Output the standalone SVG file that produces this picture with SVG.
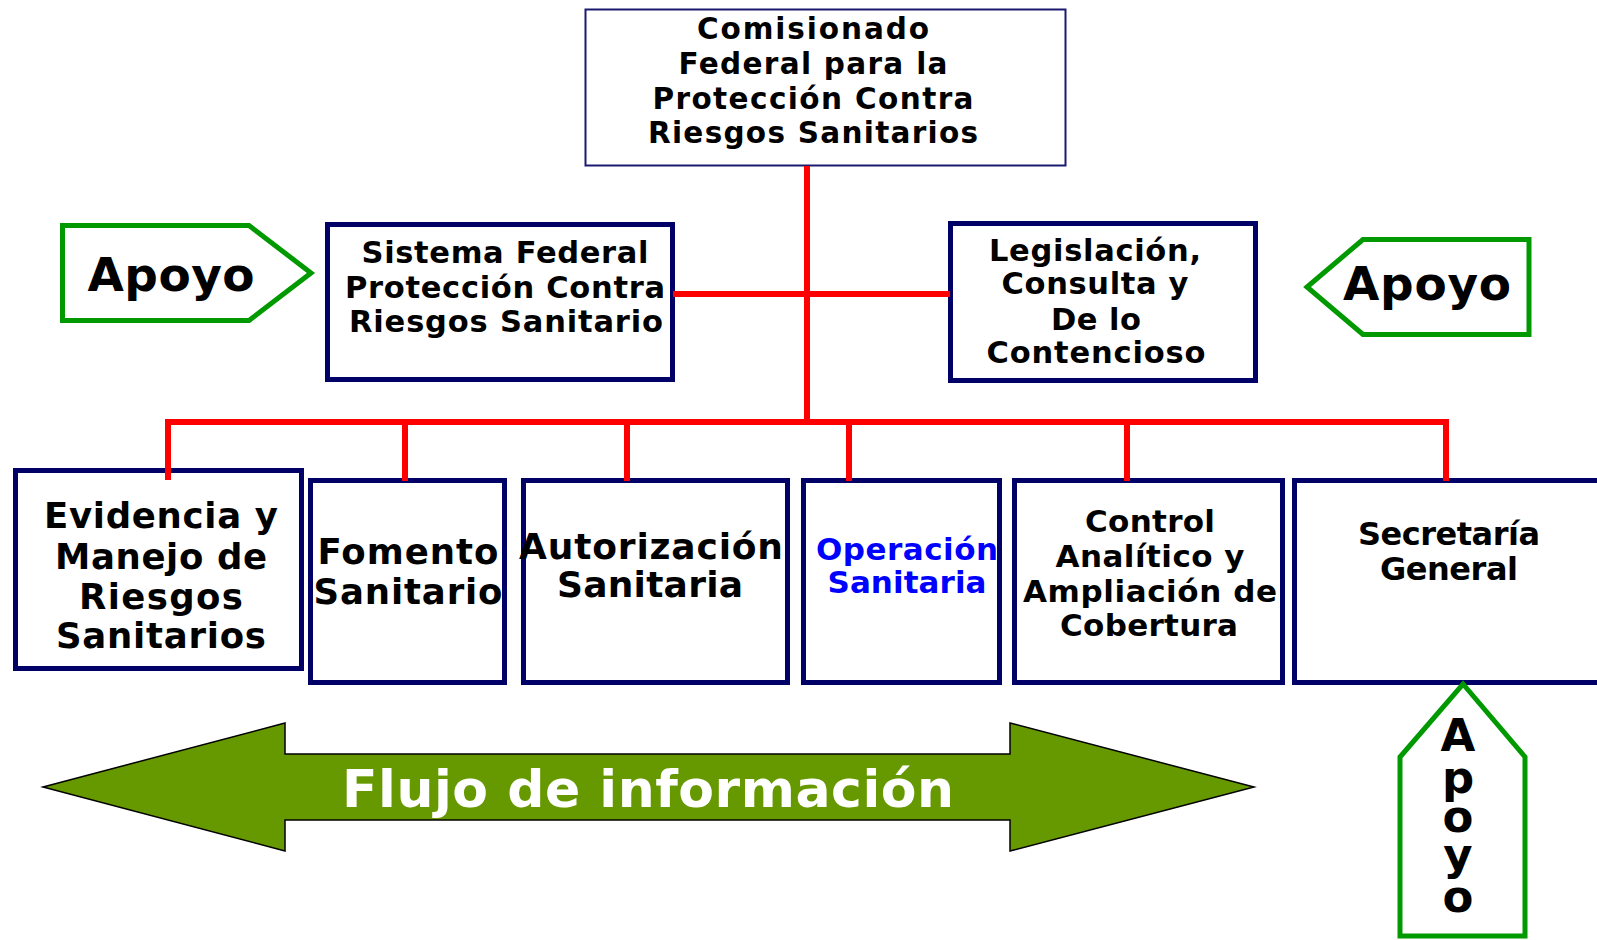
<svg xmlns="http://www.w3.org/2000/svg" width="1597" height="940" viewBox="0 0 1597 940">
<style>
.t{font-family:"DejaVu Sans",Verdana,sans-serif;font-weight:bold;text-anchor:middle;fill:#000}
.box{fill:#fff;stroke:#000066;stroke-width:5}
.top{fill:#fff;stroke:#1a1a70;stroke-width:2}
.apoyo{fill:#fff;stroke:#009900;stroke-width:5;stroke-linejoin:miter}
.red{stroke:#ff0000;stroke-width:6;fill:none}
</style>
<rect width="1597" height="940" fill="#fff"/>

<g id="comisionado">
<rect class="top" x="585.5" y="9.5" width="480" height="156"/>
<text class="t" font-size="29.5" x="813" y="39" textLength="232" lengthAdjust="spacing">Comisionado</text>
<text class="t" font-size="29.5" x="813" y="74" textLength="269" lengthAdjust="spacing">Federal para la</text>
<text class="t" font-size="29.5" x="813" y="109" textLength="321" lengthAdjust="spacing">Protección Contra</text>
<text class="t" font-size="29.5" x="813" y="143" textLength="330" lengthAdjust="spacing">Riesgos Sanitarios</text>
</g>

<g id="sistema">
<rect class="box" x="327.5" y="224.5" width="345" height="155"/>
<text class="t" font-size="30.5" x="505" y="263" textLength="287" lengthAdjust="spacing">Sistema Federal</text>
<text class="t" font-size="30.5" x="505" y="298" textLength="320" lengthAdjust="spacing">Protección Contra</text>
<text class="t" font-size="30.5" x="506" y="332" textLength="314" lengthAdjust="spacing">Riesgos Sanitario</text>
</g>

<g id="legislacion">
<rect class="box" x="950.5" y="223.5" width="305" height="157"/>
<text class="t" font-size="30.5" x="1095" y="261" textLength="212" lengthAdjust="spacing">Legislación,</text>
<text class="t" font-size="30.5" x="1095" y="294" textLength="187" lengthAdjust="spacing">Consulta y</text>
<text class="t" font-size="30.5" x="1096" y="330" textLength="90" lengthAdjust="spacing">De lo</text>
<text class="t" font-size="30.5" x="1096" y="363" textLength="219" lengthAdjust="spacing">Contencioso</text>
</g>

<g id="apoyo-izq">
<polygon class="apoyo" points="62.5,225.5 249,225.5 311,273 249,320.5 62.5,320.5"/>
<text class="t" font-size="47" x="171" y="291" textLength="167" lengthAdjust="spacing">Apoyo</text>
</g>

<g id="apoyo-der">
<polygon class="apoyo" points="1529,239.5 1363,239.5 1307,287 1363,334.5 1529,334.5"/>
<text class="t" font-size="47" x="1427" y="300" textLength="168" lengthAdjust="spacing">Apoyo</text>
</g>

<g id="evidencia">
<rect class="box" x="15.5" y="470.5" width="286" height="198"/>
<text class="t" font-size="35.5" x="161" y="528" textLength="234" lengthAdjust="spacing">Evidencia y</text>
<text class="t" font-size="35.5" x="161" y="569" textLength="212" lengthAdjust="spacing">Manejo de</text>
<text class="t" font-size="35.5" x="161" y="609" textLength="164" lengthAdjust="spacing">Riesgos</text>
<text class="t" font-size="35.5" x="161" y="648" textLength="210" lengthAdjust="spacing">Sanitarios</text>
</g>

<g id="fomento">
<rect class="box" x="310.5" y="480.5" width="194" height="202"/>
<text class="t" font-size="35.5" x="408" y="564" textLength="181" lengthAdjust="spacing">Fomento</text>
<text class="t" font-size="35.5" x="408" y="604" textLength="189" lengthAdjust="spacing">Sanitario</text>
</g>

<g id="autorizacion">
<rect class="box" x="523.5" y="480.5" width="264" height="202"/>
<text class="t" font-size="36" x="651" y="559" textLength="264" lengthAdjust="spacing">Autorización</text>
<text class="t" font-size="36" x="650" y="597" textLength="186" lengthAdjust="spacing">Sanitaria</text>
</g>

<g id="operacion">
<rect class="box" x="803.5" y="480.5" width="196" height="202"/>
<text class="t" font-size="31" x="907" y="560" style="fill:#0000ff" textLength="182" lengthAdjust="spacing">Operación</text>
<text class="t" font-size="31" x="907" y="593" style="fill:#0000ff" textLength="159" lengthAdjust="spacing">Sanitaria</text>
</g>

<g id="control">
<rect class="box" x="1014.5" y="480.5" width="268" height="202"/>
<text class="t" font-size="31" x="1150" y="532" textLength="130" lengthAdjust="spacing">Control</text>
<text class="t" font-size="31" x="1150" y="567" textLength="189" lengthAdjust="spacing">Analítico y</text>
<text class="t" font-size="31" x="1150" y="602" textLength="254" lengthAdjust="spacing">Ampliación de</text>
<text class="t" font-size="31" x="1149" y="636" textLength="178" lengthAdjust="spacing">Cobertura</text>
</g>

<g id="secretaria">
<rect class="box" x="1294.5" y="480.5" width="320" height="202"/>
<text class="t" font-size="32" x="1449" y="545" textLength="182" lengthAdjust="spacing">Secretaría</text>
<text class="t" font-size="32" x="1449" y="580" textLength="138" lengthAdjust="spacing">General</text>
</g>

<g id="apoyo-abajo">
<polygon class="apoyo" points="1463,684 1525,757 1525,936 1400,936 1400,757"/>
<text class="t" font-size="45"><tspan x="1458" y="751">A</tspan><tspan x="1458" y="793">p</tspan><tspan x="1458" y="832">o</tspan><tspan x="1458" y="870">y</tspan><tspan x="1458" y="912">o</tspan></text>
</g>

<g id="flujo">
<polygon points="43,787 285,723 285,754 1010,754 1010,723 1254,787 1010,851 1010,820 285,820 285,851" fill="#669900" stroke="#000" stroke-width="1.5" stroke-linejoin="miter"/>
<text class="t" font-size="52" x="648" y="807" style="fill:#fff" textLength="612" lengthAdjust="spacing">Flujo de información</text>
</g>

<g id="connectors">
<line class="red" x1="807" y1="166" x2="807" y2="425"/>
<line class="red" x1="673" y1="294" x2="950" y2="294"/>
<line class="red" x1="165" y1="422" x2="1449" y2="422"/>
<line class="red" x1="168" y1="419" x2="168" y2="480"/>
<line class="red" x1="405" y1="422" x2="405" y2="481"/>
<line class="red" x1="627" y1="422" x2="627" y2="481"/>
<line class="red" x1="849" y1="422" x2="849" y2="481"/>
<line class="red" x1="1127" y1="422" x2="1127" y2="481"/>
<line class="red" x1="1446" y1="419" x2="1446" y2="481"/>
</g>
</svg>
